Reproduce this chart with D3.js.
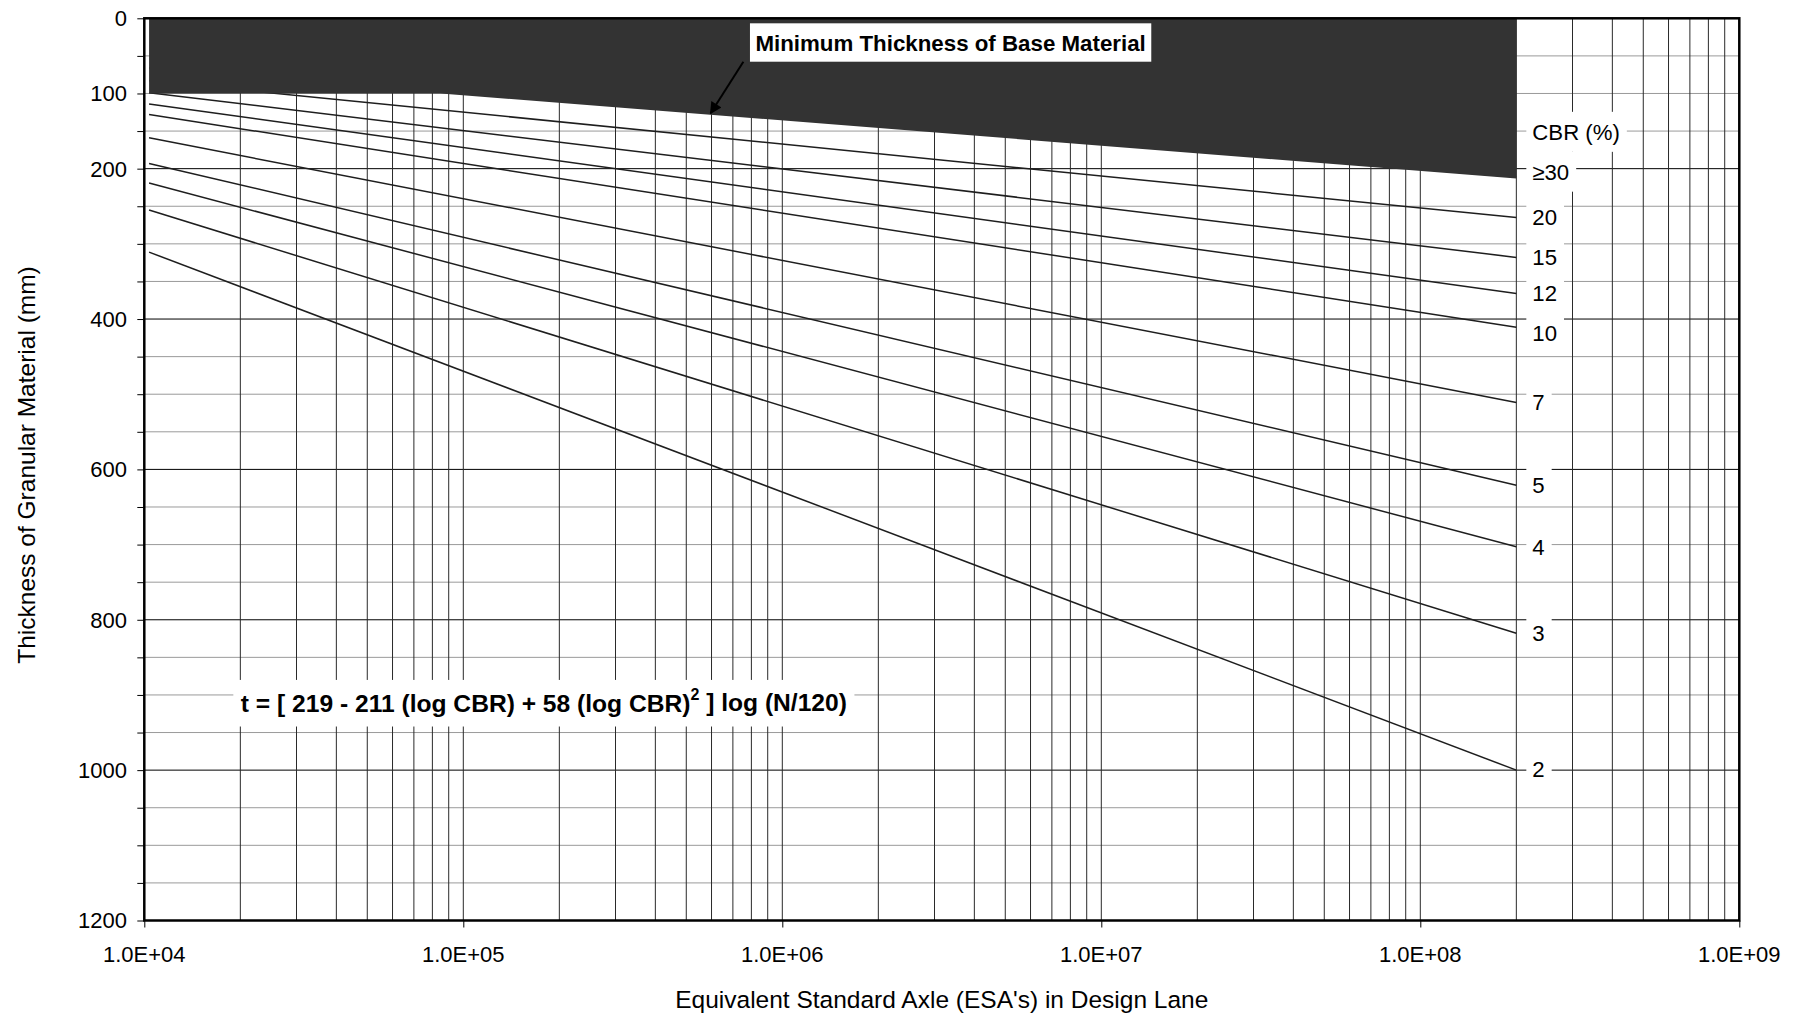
<!DOCTYPE html>
<html>
<head>
<meta charset="utf-8">
<script src="https://cdn.jsdelivr.net/npm/d3@7"></script>
<style>
  html, body { margin: 0; padding: 0; background: #fff; }
  svg { display: block; font-family: "Liberation Sans", Arial, sans-serif; }
</style>
</head>
<body>
<svg id="chart" width="1796" height="1016"></svg>
<script>
// ---------------- data ----------------
const cbrLabels = ["2", "3", "4", "5", "7", "10", "12", "15", "20", "\u226530"];
const esaRange = [1.035e4, 2e8];                       // design lines run from .. to ..
const thicknessAtStart = [311, 255, 219, 193, 159, 128, 114, 99, 83, 66];
const thicknessAtEnd = [1000, 818, 703, 621, 511, 411, 366, 318, 265, 211];
const labelThickness = [998, 818, 703, 621, 510, 418, 365, 317, 264, 204];
const cbrHeader = "CBR (%)";
const cbrHeaderThickness = 151;

const minBaseEsa = [1.035e4, 8.5e4, 2e8];
const minBaseThickness = [100, 100, 213];

const xTickValues = [1e4, 1e5, 1e6, 1e7, 1e8, 1e9];
const xTickLabels = ["1.0E+04", "1.0E+05", "1.0E+06", "1.0E+07", "1.0E+08", "1.0E+09"];
const yTickValues = [0, 100, 200, 400, 600, 800, 1000, 1200];
const yTickLabels = ["0", "100", "200", "400", "600", "800", "1000", "1200"];

const xTitle = "Equivalent Standard Axle (ESA's) in Design Lane";
const yTitle = "Thickness of Granular Material (mm)";
const annotationText = "Minimum Thickness of Base Material";

// ---------------- layout ----------------
const W = 1796, H = 1016;
const plot = { left: 144.3, right: 1739.3, top: 18.3, bottom: 920.5 };

const svg = d3.select("#chart");
const x = d3.scaleLog().domain([1e4, 1e9]).range([plot.left, plot.right]);
const y = d3.scaleLinear().domain([0, 1200]).range([plot.top, plot.bottom]);

svg.append("rect").attr("width", W).attr("height", H).attr("fill", "#fff");

// ---------------- gridlines ----------------
const gH = svg.append("g");
d3.range(50, 1200, 50).forEach(v => {
  gH.append("line")
    .attr("x1", plot.left).attr("x2", plot.right)
    .attr("y1", y(v)).attr("y2", y(v))
    .attr("stroke", v % 200 === 0 ? "#000" : "#9a9a9a")
    .attr("stroke-width", 1);
});
const gV = svg.append("g");
const vLines = [];
for (let d = 4; d <= 8; d++) for (let k = 1; k <= 9; k++) {
  const v = k * Math.pow(10, d);
  if (v > 1e4 && v < 1e9) vLines.push(v);
}
vLines.forEach(v => {
  gV.append("line")
    .attr("x1", x(v)).attr("x2", x(v))
    .attr("y1", plot.top).attr("y2", plot.bottom)
    .attr("stroke", "#2a2a2a").attr("stroke-width", 1);
});

// ---------------- CBR design lines ----------------
const lineGen = d3.line().x(d => x(d[0])).y(d => y(d[1]));
const gL = svg.append("g");
cbrLabels.forEach((lab, i) => {
  gL.append("path")
    .attr("d", lineGen([[esaRange[0], thicknessAtStart[i]], [esaRange[1], thicknessAtEnd[i]]]))
    .attr("fill", "none").attr("stroke", "#1e1e1e").attr("stroke-width", 1.5);
});

// ---------------- minimum base thickness area ----------------
const areaPts = [[minBaseEsa[0], 0], [minBaseEsa[minBaseEsa.length - 1], 0]];
for (let i = minBaseEsa.length - 1; i >= 0; i--) areaPts.push([minBaseEsa[i], minBaseThickness[i]]);
svg.append("path")
  .attr("d", lineGen(areaPts) + "Z")
  .attr("fill", "#333333").attr("stroke", "none");

// ---------------- frame & ticks ----------------
svg.append("rect")
  .attr("x", plot.left).attr("y", plot.top)
  .attr("width", plot.right - plot.left).attr("height", plot.bottom - plot.top)
  .attr("fill", "none").attr("stroke", "#000").attr("stroke-width", 2.5);

const yAxis = d3.axisLeft(y).tickValues(d3.range(0, 1201, 50)).tickSize(7).tickFormat("");
svg.append("g").attr("transform", `translate(${plot.left},0)`).call(yAxis)
  .call(g => g.select(".domain").remove())
  .call(g => g.selectAll(".tick line").attr("stroke", "#000"));

const xAxis = d3.axisBottom(x).tickValues(xTickValues).tickSize(7).tickFormat("");
svg.append("g").attr("transform", `translate(0,${plot.bottom})`).call(xAxis)
  .call(g => g.select(".domain").remove())
  .call(g => g.selectAll(".tick line").attr("stroke", "#000"));

// tick labels
svg.append("g").selectAll("text").data(yTickValues).join("text")
  .attr("x", 127).attr("y", d => y(d)).attr("dy", "0.36em")
  .attr("text-anchor", "end").attr("font-size", 22).attr("fill", "#000")
  .text((d, i) => yTickLabels[i]);
svg.append("g").selectAll("text").data(xTickValues).join("text")
  .attr("x", d => x(d)).attr("y", 961.5)
  .attr("text-anchor", "middle").attr("font-size", 22).attr("fill", "#000")
  .text((d, i) => xTickLabels[i]);

// titles
svg.append("text")
  .attr("x", (plot.left + plot.right) / 2).attr("y", 1008)
  .attr("text-anchor", "middle").attr("font-size", 24.5).attr("fill", "#000")
  .text(xTitle);
svg.append("text")
  .attr("transform", `translate(35,465) rotate(-90)`)
  .attr("text-anchor", "middle").attr("font-size", 24.5).attr("fill", "#000")
  .text(yTitle);

// ---------------- right-hand CBR labels ----------------
const labX = x(esaRange[1]) + 16;
function boxedLabel(txt, val) {
  const g = svg.append("g");
  const r = g.append("rect").attr("fill", "#fff");
  const t = g.append("text").attr("x", labX).attr("y", y(val)).attr("dy", "0.36em")
    .attr("font-size", 22.2).attr("fill", "#000").text(txt);
  const b = t.node().getBBox();
  r.attr("x", b.x - 6).attr("y", y(val) - 20).attr("width", b.width + 13).attr("height", 40);
}
boxedLabel(cbrHeader, cbrHeaderThickness);
cbrLabels.forEach((lab, i) => boxedLabel(lab, labelThickness[i]));

// ---------------- annotation ----------------
const annG = svg.append("g");
const annRect = annG.append("rect").attr("fill", "#fff");
const annText = annG.append("text")
  .attr("x", x(3.37e6)).attr("y", y(32.2)).attr("dy", "0.36em")
  .attr("text-anchor", "middle").attr("font-size", 22.3).attr("font-weight", "bold")
  .attr("fill", "#000").text(annotationText);
const ab = annText.node().getBBox();
annRect.attr("x", ab.x - 5.5).attr("y", y(32.2) - 19.2).attr("width", ab.width + 11).attr("height", 38.4);

const defs = svg.append("defs");
defs.append("marker").attr("id", "arrowhead")
  .attr("viewBox", "0 0 10 10").attr("refX", 9).attr("refY", 5)
  .attr("markerWidth", 7).attr("markerHeight", 6).attr("orient", "auto")
  .attr("markerUnits", "strokeWidth")
  .append("path").attr("d", "M0,0 L10,5 L0,10 Z").attr("fill", "#000");
svg.append("line")
  .attr("x1", x(7.55e5)).attr("y1", y(57.7))
  .attr("x2", x(5.96e5)).attr("y2", y(126.4))
  .attr("stroke", "#000").attr("stroke-width", 2)
  .attr("marker-end", "url(#arrowhead)");

// ---------------- formula ----------------
const fG = svg.append("g");
const fRect = fG.append("rect").attr("fill", "#fff");
const fText = fG.append("text")
  .attr("x", x(2e4) + 0.5).attr("y", y(911)).attr("dy", "0.36em")
  .attr("font-size", 24.6).attr("font-weight", "bold").attr("fill", "#000");
fText.append("tspan").text("t = [ 219 - 211 (log CBR) + 58 (log CBR)");
fText.append("tspan").attr("font-size", 16).attr("dy", "-0.75em").text("2");
fText.append("tspan").attr("dy", "0.45em").text(" ] log (N/120)");
const fb = fText.node().getBBox();
fRect.attr("x", fb.x - 7.5).attr("y", y(911) - 23.3).attr("width", fb.width + 15).attr("height", 46.6);
</script>
</body>
</html>
